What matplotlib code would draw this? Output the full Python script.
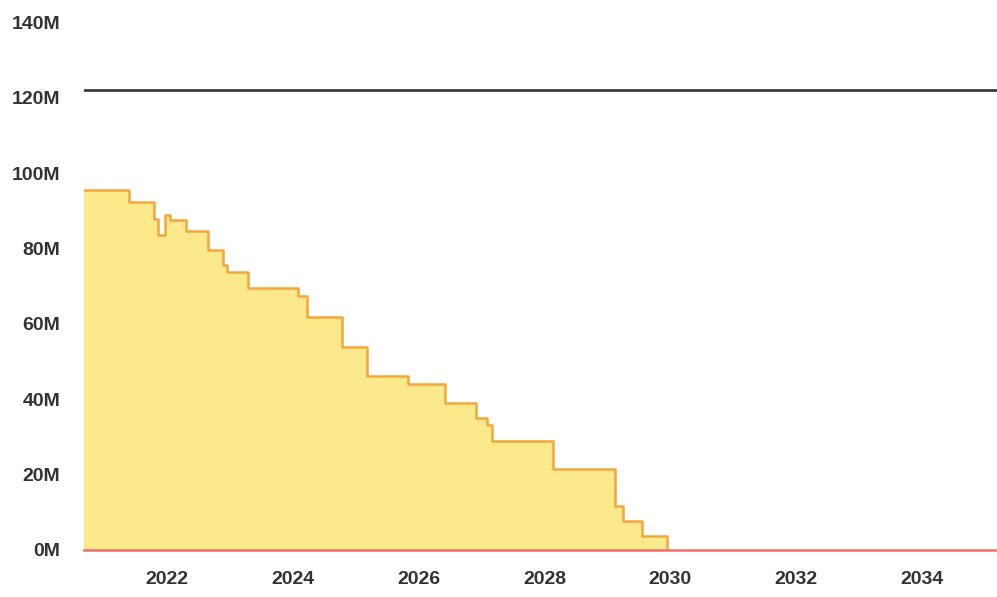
import numpy as np
import matplotlib.pyplot as plt
from matplotlib.ticker import FuncFormatter

# step series: start of each step (fractional year) and value in millions
step_years = [2020.68, 2021.40, 2021.79, 2021.86, 2021.97, 2022.05, 2022.30,
              2022.65, 2022.89, 2022.95, 2023.29, 2024.08, 2024.22, 2024.78,
              2025.18, 2025.83, 2026.42, 2026.91, 2027.09, 2027.17, 2028.14,
              2029.12, 2029.25, 2029.55, 2029.95]
step_values = [95.5, 92.4, 87.9, 83.5, 88.8, 87.7, 84.6,
               79.6, 75.6, 73.9, 69.6, 67.5, 61.8, 54.0,
               46.1, 44.1, 39.1, 35.0, 33.1, 28.8, 21.6,
               11.7, 7.6, 3.6, 0.0]

# flat reference lines
limit_years = [2020.68, 2035.19]
limit_values = [122.0, 122.0]
zero_values = [0.0, 0.0]

year_ticks = [2022, 2024, 2026, 2028, 2030, 2032, 2034]
value_ticks = [0, 20, 40, 60, 80, 100, 120, 140]

fig = plt.figure(figsize=(9.97, 5.97), dpi=100)
ax = fig.add_axes([0.084, 0.079, 0.916, 0.883])

ax.fill_between(step_years, step_values, 0, step='post',
                color='#fce98c', linewidth=0, zorder=1)
ax.plot(step_years, step_values, drawstyle='steps-post',
        color='#f4a73c', linewidth=1.8, zorder=2)
ax.plot(limit_years, zero_values, color='#ef6f6a', linewidth=1.8,
        zorder=3, clip_on=False)
ax.plot(limit_years, limit_values, color='#333333', linewidth=1.9, zorder=3)

ax.set_xlim(limit_years[0], limit_years[1])
ax.set_ylim(0, 140)
ax.set_xticks(year_ticks)
ax.set_yticks(value_ticks)
ax.yaxis.set_major_formatter(FuncFormatter(lambda v, p: f'{v:.0f}M'))

for s in ax.spines.values():
    s.set_visible(False)
ax.tick_params(length=0, labelsize=14, labelcolor='#333333')
ax.tick_params(axis='y', pad=17)
ax.tick_params(axis='x', pad=15)
for lbl in ax.get_xticklabels() + ax.get_yticklabels():
    lbl.set_family('Liberation Sans')
    lbl.set_fontweight('bold')

fig.savefig('out.png', dpi=100)
